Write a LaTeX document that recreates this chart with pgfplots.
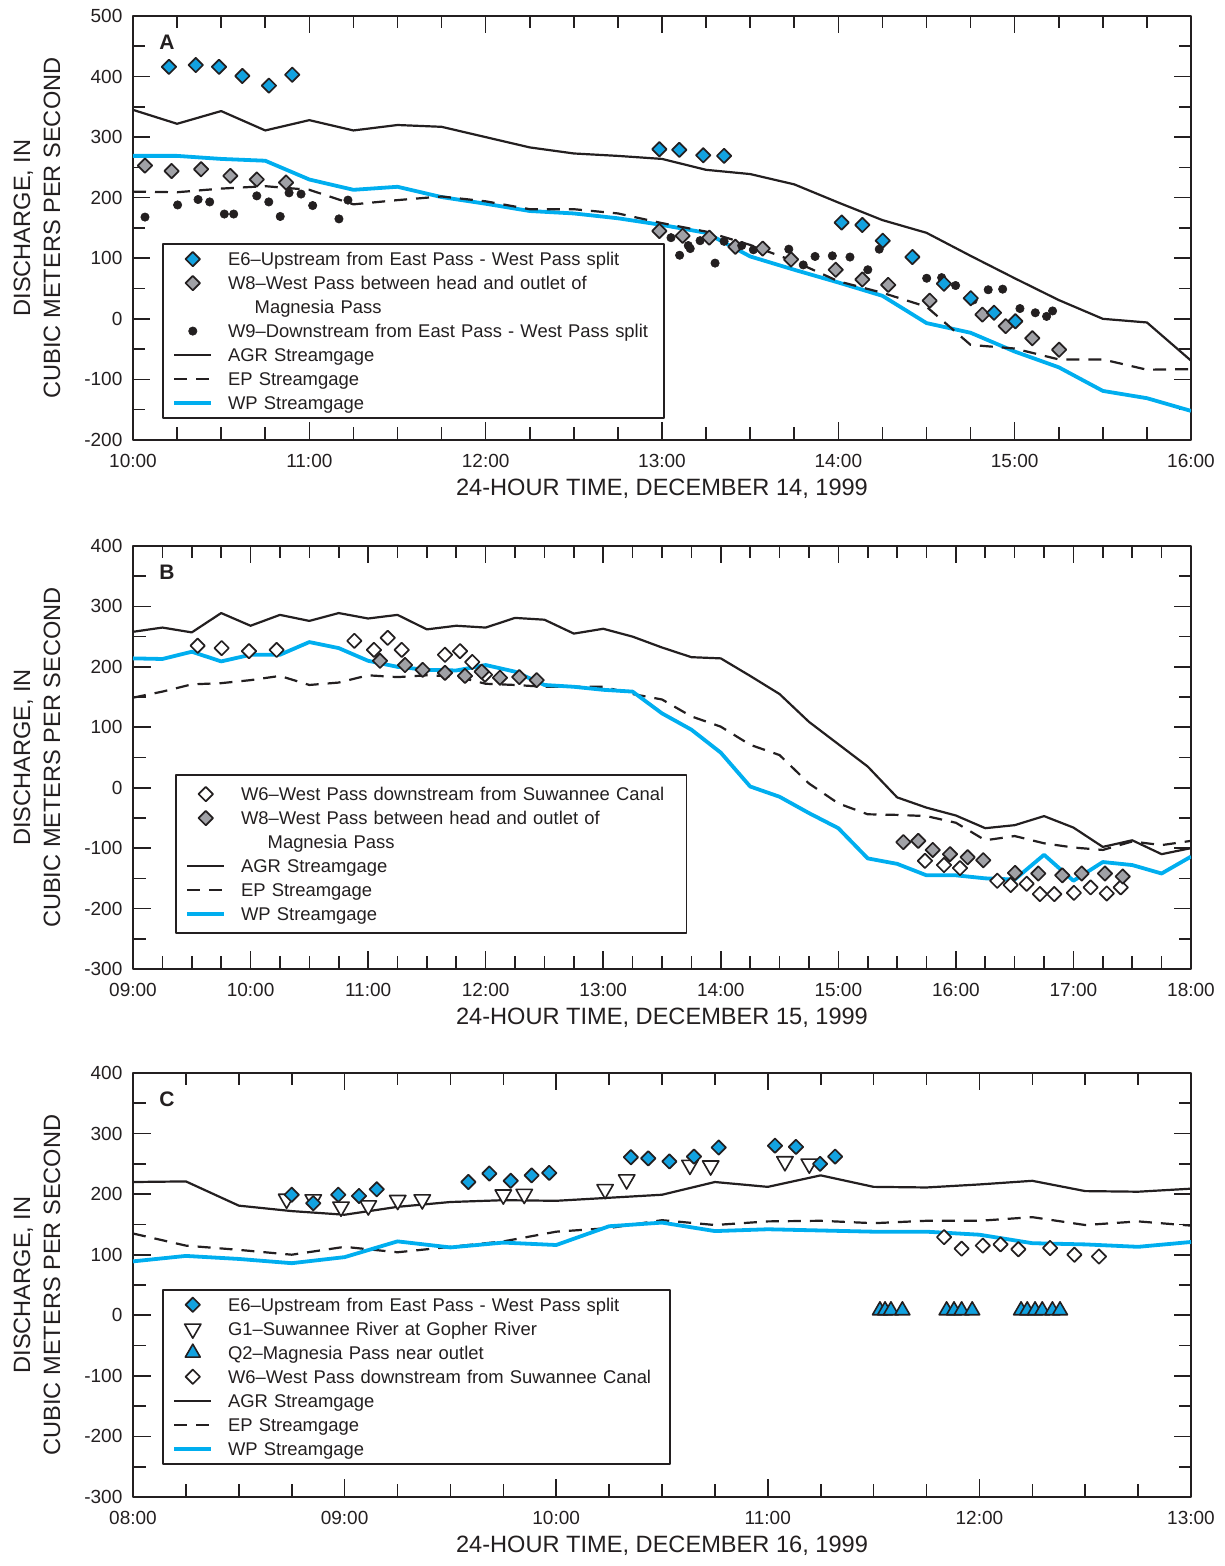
\documentclass[border=0pt]{standalone}
\usepackage{pgfplots}
\pgfplotsset{compat=1.18}
\usepackage{fontspec}
\setmainfont{Liberation Sans}

\definecolor{ink}{RGB}{35,31,32}
\definecolor{wpcyan}{RGB}{0,174,239}
\definecolor{esixblue}{RGB}{18,162,224}
\definecolor{weightgray}{RGB}{160,161,166}

\pgfplotsset{
  panel/.style={
    scale only axis, width=529pt,
    axis line style={ink, line width=0.9pt},
    tick style={ink, line width=0.8pt},
    major tick length=8.75pt, minor tick length=6.25pt,
    tick align=inside,
    minor x tick num=3, minor y tick num=1,
    tick label style={font=\fontsize{9.5}{11}\selectfont, text=ink},
    xticklabel style={yshift=-3.5pt},
    yticklabel style={xshift=-1.8pt},
    xlabel style={font=\fontsize{11.8}{14}\selectfont, text=ink,
      at={(axis description cs:0.5,0)}, anchor=base, yshift=-27.8pt},
    ylabel={DISCHARGE, IN\\CUBIC METERS PER SECOND},
    ylabel style={font=\fontsize{11.8}{15}\selectfont, text=ink, align=center,
      at={(axis description cs:-0.0907,0.5)}, anchor=center},
    legend cell align=left,
    legend image code/.code={\draw[mark repeat=2,mark phase=2,#1]
      plot coordinates {(0pt,0pt) (9.2pt,0pt) (18.4pt,0pt)};},
    legend style={anchor=north west, draw=ink, line width=0.8pt, fill=white,
      inner xsep=4.85pt, inner ysep=1.5pt, row sep=0pt, column sep=7.5pt,
      font=\fontsize{9.2}{11}\selectfont,
      nodes={inner sep=0pt, text height=9.4pt, text depth=2.6pt, align=left, text=ink}},
    line join=round,
  },
  e6/.style={only marks, mark=square*, mark size=2.55pt,
    mark options={solid, rotate=45, fill=esixblue, draw=ink, line width=0.85pt}},
  w8/.style={only marks, mark=square*, mark size=2.55pt,
    mark options={solid, rotate=45, fill=weightgray, draw=ink, line width=0.85pt}},
  w6/.style={only marks, mark=square*, mark size=2.55pt,
    mark options={solid, rotate=45, fill=white, draw=ink, line width=0.85pt}},
  w9/.style={only marks, mark=*, mark size=2.1pt,
    mark options={solid, fill=ink, draw=ink, line width=0.3pt}},
  g1/.style={only marks, mark=triangle*, mark size=4.7pt,
    mark options={solid, rotate=180, fill=white, draw=ink, line width=0.8pt}},
  q2/.style={only marks, mark=triangle*, mark size=4.3pt,
    mark options={solid, fill=esixblue, draw=ink, line width=0.8pt}},
  agr/.style={ink, line width=1.1pt, no marks},
  ep/.style={ink, line width=1.1pt, dash pattern=on 6.5pt off 4.5pt, no marks},
  wp/.style={wpcyan, line width=1.9pt, no marks},
}

\begin{document}
\begin{tikzpicture}
\useasboundingbox (0,0) rectangle (612pt,783pt);

% ---------------- Panel A: December 14, 1999 ----------------
\begin{axis}[panel, at={(66.5pt,563pt)}, anchor=south west, height=212pt,
  xmin=10, xmax=16, ymin=-200, ymax=500,
  xtick={10,11,12,13,14,15,16},
  xticklabels={10:00,11:00,12:00,13:00,14:00,15:00,16:00},
  ytick={-200,-100,0,100,200,300,400,500},
  yticklabels={-200,-100,0,100,200,300,400,500},
  xlabel={24-HOUR TIME, DECEMBER 14, 1999},
  legend style={at={(0.0274,0.4639)}, nodes={text width=213pt}},
]
\addlegendimage{e6}\addlegendentry{E6--Upstream from East Pass - West Pass split}
\addlegendimage{w8}\addlegendentry{W8--West Pass between head and outlet of}
\addlegendimage{empty legend}\addlegendentry{\hspace*{13.3pt}Magnesia Pass}
\addlegendimage{w9}\addlegendentry{W9--Downstream from East Pass - West Pass split}
\addlegendimage{agr}\addlegendentry{AGR Streamgage}
\addlegendimage{ep}\addlegendentry{EP Streamgage}
\addlegendimage{wp}\addlegendentry{WP Streamgage}

\addplot[w8, forget plot] table {
t q
10.068 253
10.219 244
10.386 247
10.552 236
10.702 230
10.868 225
12.985 145
13.117 137
13.268 134
13.416 119
13.571 116
13.732 98
13.985 81
14.136 65
14.283 56
14.518 30
14.817 7
14.949 -12
15.100 -32
15.252 -51
};
\addplot[agr, forget plot] table {
t q
10.00 345
10.25 322
10.50 343
10.75 311
11.00 328
11.25 311
11.50 320
11.75 317
12.00 300
12.25 283
12.50 273
12.75 269
13.00 264
13.25 246
13.50 239
13.75 222
14.00 192
14.25 163
14.50 142
14.75 104
15.00 67
15.25 31
15.50 0
15.75 -6
16.00 -69
};
\addplot[wp, forget plot] table {
t q
10.00 269
10.25 269
10.50 264
10.75 261
11.00 230
11.25 213
11.50 218
11.75 201
12.00 190
12.25 178
12.50 174
12.75 166
13.00 155
13.25 142
13.50 103
13.75 81
14.00 60
14.25 38
14.50 -7
14.75 -23
15.00 -54
15.25 -80
15.50 -119
15.75 -131
16.00 -152
};
\addplot[ep, forget plot] table {
t q
10.00 210
10.25 209
10.50 215
10.75 219
11.00 213
11.25 189
11.50 196
11.75 202
12.00 194
12.25 181
12.50 181
12.75 174
13.00 158
13.25 144
13.50 122
13.75 95
14.00 62
14.25 43
14.50 20
14.75 -43
15.00 -49
15.25 -67
15.50 -67
15.75 -84
16.00 -83
};
\addplot[w9, forget plot] table {
t q
10.068 168
10.253 188
10.369 197
10.435 193
10.518 173
10.571 173
10.702 203
10.770 193
10.835 169
10.885 208
10.953 206
11.019 187
11.168 165
11.219 196
13.051 134
13.100 105
13.149 121
13.160 116
13.216 129
13.301 92
13.352 128
13.452 121
13.518 114
13.719 115
13.801 89
13.868 103
13.966 104
14.066 102
14.167 81
14.232 115
14.501 67
14.586 68
14.665 55
14.765 31
14.850 48
14.932 49
15.030 17
15.117 10
15.181 4
15.215 13
};
\addplot[e6, forget plot] table {
t q
10.204 416
10.356 419
10.488 416
10.620 401
10.771 385
10.903 403
12.985 280
13.098 279
13.234 270
13.352 269
14.019 159
14.136 155
14.252 129
14.420 102
14.599 58
14.751 34
14.883 10
15.004 -4
};
\node[font=\bfseries\fontsize{10.5}{12}\selectfont, text=ink]
  at (axis description cs:0.032,0.938) {A};
\end{axis}

% ---------------- Panel B: December 15, 1999 ----------------
\begin{axis}[panel, at={(66.5pt,298.5pt)}, anchor=south west, height=211.5pt,
  xmin=9, xmax=18, ymin=-300, ymax=400,
  xtick={9,10,11,12,13,14,15,16,17,18},
  xticklabels={09:00,10:00,11:00,12:00,13:00,14:00,15:00,16:00,17:00,18:00},
  ytick={-300,-200,-100,0,100,200,300,400},
  yticklabels={-300,-200,-100,0,100,200,300,400},
  xlabel={24-HOUR TIME, DECEMBER 15, 1999},
  legend style={at={(0.0397,0.4603)}, inner ysep=3.5pt, nodes={text width=217.9pt}},
]
\addlegendimage{w6}\addlegendentry{W6--West Pass downstream from Suwannee Canal}
\addlegendimage{w8}\addlegendentry{W8--West Pass between head and outlet of}
\addlegendimage{empty legend}\addlegendentry{\hspace*{13.3pt}Magnesia Pass}
\addlegendimage{agr}\addlegendentry{AGR Streamgage}
\addlegendimage{ep}\addlegendentry{EP Streamgage}
\addlegendimage{wp}\addlegendentry{WP Streamgage}

\addplot[agr, forget plot] table {
t q
9.00 258
9.25 265
9.50 257
9.75 289
10.00 268
10.25 286
10.50 276
10.75 289
11.00 280
11.25 286
11.50 262
11.75 268
12.00 265
12.25 281
12.50 278
12.75 255
13.00 263
13.25 250
13.50 232
13.75 216
14.00 214
14.25 185
14.50 155
14.75 109
15.00 72
15.25 35
15.50 -16
15.75 -33
16.00 -46
16.25 -67
16.50 -62
16.75 -47
17.00 -66
17.25 -98
17.50 -87
17.75 -110
18.00 -100
};
\addplot[ep, forget plot] table {
t q
9.00 149
9.25 159
9.50 171
9.75 173
10.00 178
10.25 185
10.50 170
10.75 174
11.00 186
11.25 183
11.50 186
11.75 184
12.00 172
12.25 170
12.50 167
12.75 167
13.00 167
13.25 155
13.50 146
13.75 118
14.00 101
14.25 71
14.50 54
14.75 7
15.00 -26
15.25 -44
15.50 -45
15.75 -47
16.00 -58
16.25 -87
16.50 -80
16.75 -92
17.00 -99
17.25 -103
17.50 -89
17.75 -95
18.00 -88
};
\addplot[wp, forget plot] table {
t q
9.00 214
9.25 213
9.50 225
9.75 209
10.00 220
10.25 220
10.50 241
10.75 231
11.00 210
11.25 200
11.50 195
11.75 194
12.00 203
12.25 192
12.50 170
12.75 167
13.00 162
13.25 159
13.50 123
13.75 96
14.00 58
14.25 2
14.50 -15
14.75 -42
15.00 -67
15.25 -117
15.50 -126
15.75 -145
16.00 -145
16.25 -150
16.50 -152
16.75 -111
17.00 -154
17.25 -123
17.50 -128
17.75 -142
18.00 -114
};
\addplot[w6, forget plot] table {
t q
9.550 235
9.754 231
9.987 226
10.222 228
10.883 243
11.050 228
11.167 248
11.286 228
11.654 220
11.782 226
11.886 208
11.994 187
15.737 -121
15.899 -128
16.035 -133
16.352 -154
16.466 -161
16.602 -159
16.715 -176
16.837 -176
17.004 -174
17.146 -165
17.283 -175
17.402 -165
};
\addplot[w8, forget plot] table {
t q
11.101 210
11.314 203
11.464 195
11.654 190
11.824 185
11.966 192
12.122 182
12.286 183
12.434 178
15.553 -90
15.680 -88
15.803 -103
15.950 -110
16.100 -115
16.233 -120
16.503 -141
16.701 -142
16.905 -145
17.070 -142
17.268 -142
17.419 -147
};
\node[font=\bfseries\fontsize{10.5}{12}\selectfont, text=ink]
  at (axis description cs:0.032,0.938) {B};
\end{axis}

% ---------------- Panel C: December 16, 1999 ----------------
\begin{axis}[panel, at={(66.5pt,34.5pt)}, anchor=south west, height=212pt,
  xmin=8, xmax=13, ymin=-300, ymax=400,
  xtick={8,9,10,11,12,13},
  xticklabels={08:00,09:00,10:00,11:00,12:00,13:00},
  ytick={-300,-200,-100,0,100,200,300,400},
  yticklabels={-300,-200,-100,0,100,200,300,400},
  xlabel={24-HOUR TIME, DECEMBER 16, 1999},
  legend style={at={(0.0274,0.4906)}, nodes={text width=216pt}},
]
\addlegendimage{e6}\addlegendentry{E6--Upstream from East Pass - West Pass split}
\addlegendimage{g1}\addlegendentry{G1--Suwannee River at Gopher River}
\addlegendimage{q2}\addlegendentry{Q2--Magnesia Pass near outlet}
\addlegendimage{w6}\addlegendentry{W6--West Pass downstream from Suwannee Canal}
\addlegendimage{agr}\addlegendentry{AGR Streamgage}
\addlegendimage{ep}\addlegendentry{EP Streamgage}
\addlegendimage{wp}\addlegendentry{WP Streamgage}

\addplot[agr, forget plot] table {
t q
8.00 220
8.25 221
8.50 181
8.75 172
9.00 166
9.25 179
9.50 187
9.75 190
10.00 189
10.25 194
10.50 199
10.75 220
11.00 212
11.25 231
11.50 212
11.75 211
12.00 216
12.25 222
12.50 205
12.75 204
13.00 209
};
\addplot[ep, forget plot] table {
t q
8.00 135
8.25 115
8.50 108
8.75 100
9.00 113
9.25 104
9.50 113
9.75 122
10.00 138
10.25 144
10.50 157
10.75 149
11.00 155
11.25 156
11.50 152
11.75 156
12.00 156
12.25 162
12.50 149
12.75 155
13.00 148
};
\addplot[wp, forget plot] table {
t q
8.00 89
8.25 98
8.50 93
8.75 86
9.00 96
9.25 122
9.50 112
9.75 120
10.00 116
10.25 147
10.50 153
10.75 139
11.00 142
11.25 140
11.50 138
11.75 138
12.00 133
12.25 119
12.50 117
12.75 113
13.00 121
};
\addplot[g1, forget plot] table {
t q
8.726 192
8.852 191
8.983 179
9.112 181
9.251 190
9.367 191
9.750 199
9.849 200
10.231 208
10.333 224
10.632 248
10.730 247
11.081 254
11.196 250
};
\addplot[e6, forget plot] table {
t q
8.750 199
8.852 185
8.970 199
9.068 197
9.152 208
9.585 220
9.684 234
9.785 222
9.884 231
9.967 235
10.353 261
10.435 259
10.535 254
10.651 262
10.768 277
11.034 280
11.133 278
11.247 250
11.318 262
};
\addplot[q2, forget plot] table {
t q
11.530 8
11.554 8
11.582 8
11.636 8
11.845 8
11.880 8
11.916 8
11.966 8
12.197 8
12.226 8
12.263 8
12.297 8
12.345 8
12.381 8
};
\addplot[w6, forget plot] table {
t q
11.833 129
11.916 110
12.016 115
12.100 117
12.184 109
12.334 111
12.449 100
12.565 97
};
\node[font=\bfseries\fontsize{10.5}{12}\selectfont, text=ink]
  at (axis description cs:0.032,0.938) {C};
\end{axis}
\end{tikzpicture}
\end{document}
